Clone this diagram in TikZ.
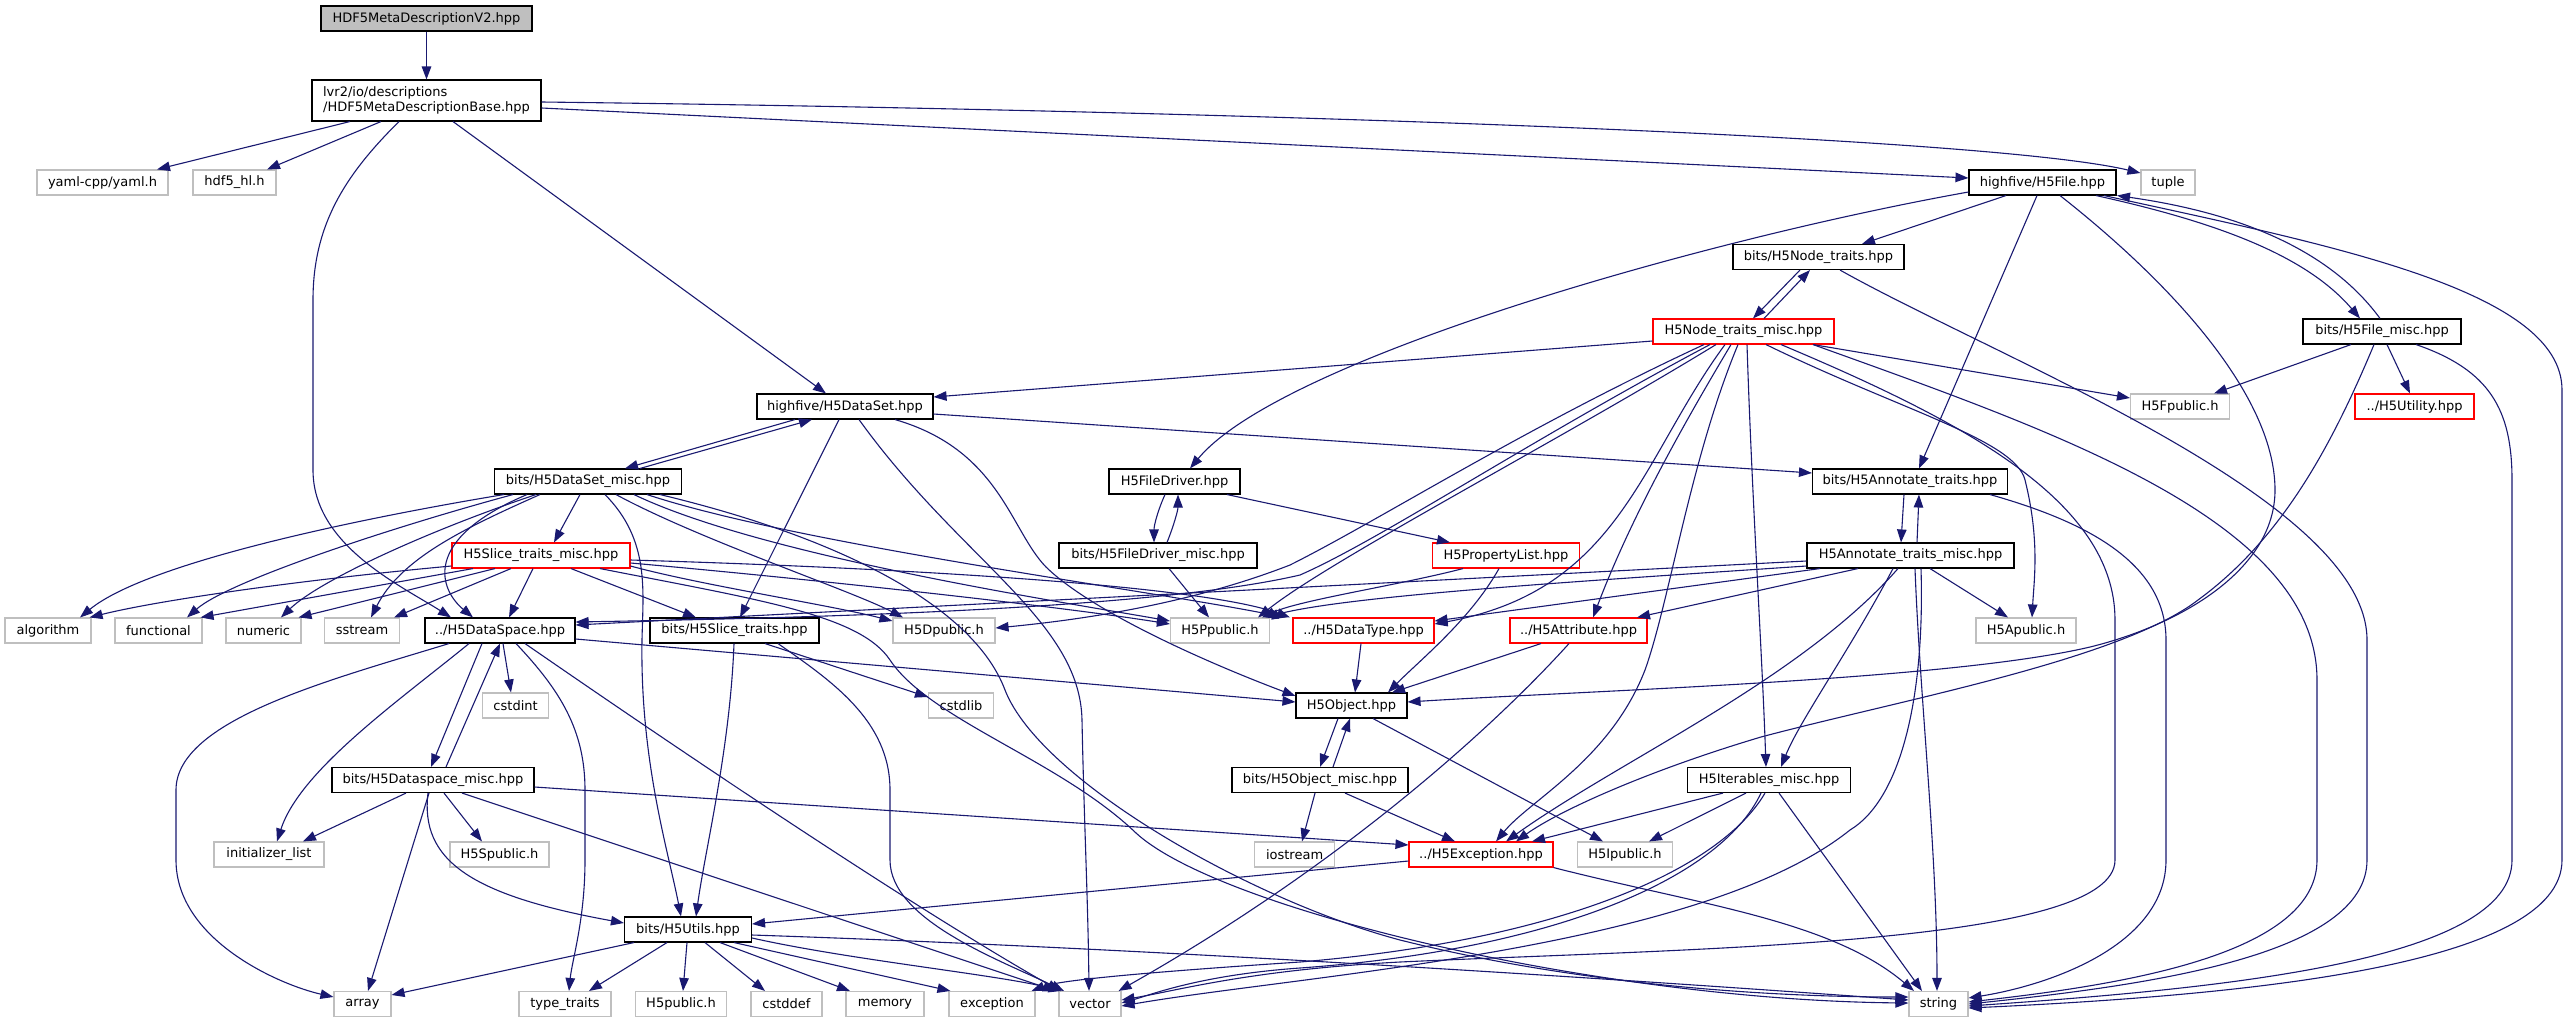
\documentclass[tikz,border=0pt]{standalone}
\usepackage{fontspec}
\setmainfont{DejaVu Sans}
\usetikzlibrary{arrows.meta,calc}
\definecolor{edgec}{HTML}{191970}
\definecolor{grayb}{HTML}{BFBFBF}
\definecolor{redb}{HTML}{FF0000}
\definecolor{rootf}{HTML}{BFBFBF}
\newcommand{\dxfont}{\fontsize{13pt}{15pt}\selectfont}
\begin{document}
\begin{tikzpicture}[x=1pt,y=-1pt,
  nd/.style={rectangle, inner sep=0pt, minimum height=25pt, line width=1.1pt, font=\dxfont, text=black},
  fb/.style={nd, draw=black},
  gb/.style={nd, draw=grayb},
  rb/.style={nd, draw=redb},
  mw/.style={minimum width=#1pt},
  ed/.style={draw=edgec, line width=1.1pt, -{Triangle[length=13pt,width=9.5pt]}}]
\useasboundingbox (0,0) rectangle (2568,1023);
% ---------- nodes ----------
\node[fb, mw=211, fill=rootf] (v2) at (426.5,18.5) {HDF5MetaDescriptionV2.hpp};
\node[fb, mw=229, minimum height=41pt, align=left] (base) at (426.5,100.5) {lvr2/io/descriptions\\/HDF5MetaDescriptionBase.hpp};
\node[gb, mw=131] (yaml) at (102.5,182.5) {yaml-cpp/yaml.h};
\node[gb, mw=83] (hdfhl) at (234.5,182.5) {hdf5\_hl.h};
\node[fb, mw=147] (file) at (2042.5,182.5) {highfive/H5File.hpp};
\node[gb, mw=54] (tuple) at (2168,182.5) {tuple};
\node[fb, mw=171] (ntr) at (1818.5,257) {bits/H5Node\_traits.hpp};
\node[rb, mw=181] (ntm) at (1743.5,331.5) {H5Node\_traits\_misc.hpp};
\node[fb, mw=158] (fmisc) at (2382,331.5) {bits/H5File\_misc.hpp};
\node[gb, mw=99] (fpub) at (2180,406.5) {H5Fpublic.h};
\node[rb, mw=119] (util) at (2414.5,406.5) {../H5Utility.hpp};
\node[fb, mw=176] (dset) at (845,406.5) {highfive/H5DataSet.hpp};
\node[fb, mw=187] (dsm) at (588,481.5) {bits/H5DataSet\_misc.hpp};
\node[fb, mw=131] (fdrv) at (1174.5,481.5) {H5FileDriver.hpp};
\node[fb, mw=195] (atr) at (1910,481.5) {bits/H5Annotate\_traits.hpp};
\node[rb, mw=178] (slm) at (541,555.5) {H5Slice\_traits\_misc.hpp};
\node[fb, mw=198] (fdm) at (1158,555.5) {bits/H5FileDriver\_misc.hpp};
\node[rb, mw=147] (plist) at (1506,555.5) {H5PropertyList.hpp};
\node[fb, mw=207] (atm) at (1910.5,555.5) {H5Annotate\_traits\_misc.hpp};
\node[gb, mw=86] (algo) at (48,630.5) {algorithm};
\node[gb, mw=87] (func) at (158.5,630.5) {functional};
\node[gb, mw=75] (num) at (263.5,630.5) {numeric};
\node[gb, mw=75] (sstr) at (362,630.5) {sstream};
\node[fb, mw=150] (dspace) at (500,630.5) {../H5DataSpace.hpp};
\node[fb, mw=169] (sltr) at (734.5,630.5) {bits/H5Slice\_traits.hpp};
\node[gb, mw=102] (dpub) at (944,630.5) {H5Dpublic.h};
\node[gb, mw=99] (ppub) at (1220,630.5) {H5Ppublic.h};
\node[rb, mw=141] (dtype) at (1363.5,630.5) {../H5DataType.hpp};
\node[rb, mw=137] (attr) at (1578.5,630.5) {../H5Attribute.hpp};
\node[gb, mw=100] (apub) at (2026,630.5) {H5Apublic.h};
\node[gb, mw=66] (cstdint) at (515.6,705.5) {cstdint};
\node[gb, mw=65] (cstdlib) at (961,705.5) {cstdlib};
\node[fb, mw=111] (obj) at (1351.5,705.5) {H5Object.hpp};
\node[fb, mw=202] (dspm) at (433,780) {bits/H5Dataspace\_misc.hpp};
\node[fb, mw=176] (objm) at (1320,780) {bits/H5Object\_misc.hpp};
\node[fb, mw=163] (itm) at (1769,780) {H5Iterables\_misc.hpp};
\node[gb, mw=110] (initl) at (269,854.5) {initializer\_list};
\node[gb, mw=99] (spub) at (499.5,854.5) {H5Spublic.h};
\node[gb, mw=80] (iostr) at (1294.6,854.5) {iostream};
\node[rb, mw=144] (exc) at (1481,854.5) {../H5Exception.hpp};
\node[gb, mw=95] (ipub) at (1625,854.5) {H5Ipublic.h};
\node[fb, mw=127] (utils) at (688,929.5) {bits/H5Utils.hpp};
\node[gb, mw=57] (array) at (362.5,1004) {array};
\node[gb, mw=92] (ttraits) at (565,1004) {type\_traits};
\node[gb, mw=91] (h5pub) at (681,1004) {H5public.h};
\node[gb, mw=71] (cstddef) at (786.5,1004) {cstddef};
\node[gb, mw=78] (memory) at (885,1004) {memory};
\node[gb, mw=86] (exception) at (992,1004) {exception};
\node[gb, mw=62] (vector) at (1090,1004) {vector};
\node[gb, mw=59] (string) at (1938.5,1004) {string};
% ---------- edges ----------
% top
\draw[ed] (v2.south) -- (base.north);
\draw[ed] (base.south -| 350,0) -- (yaml.north -| 157,0);
\draw[ed] (base.south -| 381,0) -- (hdfhl.north -| 267,0);
\draw[ed] (base.south -| 399,0) .. controls (345,175) and (313,225) .. (313,300) -- (313,470) .. controls (313,545) and (400,585) .. (dspace.north -| 451,0);
\draw[ed] (base.south -| 453,0) -- (dset.north -| 826,0);
\draw[ed] (base.east |- 0,108) -- (file.west |- 0,178);
\draw[ed] (base.east |- 0,102) .. controls (1200,110) and (1980,135) .. (tuple.west |- 0,173);
% file
\draw[ed] (file.south -| 2006,0) -- (ntr.north -| 1862,0);
\draw[ed] (file.west |- 0,192) .. controls (1700,240) and (1280,360) .. (fdrv.north -| 1190,0);
\draw[ed] (file.south -| 2037,0) -- (atr.north -| 1919,0);
\draw[ed] (file.south -| 2060,0) .. controls (2180,290) and (2275,400) .. (2275,490) .. controls (2275,570) and (2180,625) .. (2090,647) .. controls (1950,680) and (1600,690) .. (obj.east |- 0,702);
\draw[ed] (file.south -| 2104,0) .. controls (2330,245) and (2562,290) .. (2562,390) -- (2562,860) .. controls (2562,965) and (2250,995) .. (string.east |- 0,1008);
\draw[ed] (file.south -| 2096,0) .. controls (2230,225) and (2310,260) .. (fmisc.north -| 2360,0);
\draw[ed] (fmisc.north -| 2380,0) .. controls (2330,250) and (2240,213) .. (file.south -| 2117,0);
% file misc
\draw[ed] (fmisc.south -| 2351,0) -- (fpub.north -| 2214,0);
\draw[ed] (fmisc.south -| 2387,0) -- (util.north -| 2410,0);
\draw[ed] (fmisc.south -| 2416,0) .. controls (2490,370) and (2512,410) .. (2512,480) -- (2512,860) .. controls (2512,960) and (2230,988) .. (string.east |- 0,1006);
\draw[ed] (fmisc.south -| 2374,0) .. controls (2330,450) and (2280,540) .. (2198,600) .. controls (2120,660) and (1900,700) .. (1761,737) .. controls (1650,770) and (1560,810) .. (exc.north -| 1516,0);
% node traits
\draw[ed] (ntr.south -| 1800,0) -- (ntm.north -| 1753,0);
\draw[ed] (ntm.north -| 1764,0) -- (ntr.south -| 1810,0);
\draw[ed] (ntr.south -| 1840,0) .. controls (2000,360) and (2367,500) .. (2367,640) -- (2367,860) .. controls (2367,955) and (2150,985) .. (string.east |- 0,1004);
% node traits misc
\draw[ed] (ntm.west |- 0,341) -- (dset.east |- 0,397);
\draw[ed] (ntm.south -| 1813,0) -- (fpub.west |- 0,398);
\draw[ed] (ntm.south -| 1766,0) .. controls (1900,410) and (2015,440) .. (2025,480) .. controls (2040,540) and (2034,580) .. (apub.north -| 2032,0);
\draw[ed] (ntm.south -| 1781,0) .. controls (1960,420) and (2115,500) .. (2115,620) -- (2115,860) .. controls (2115,945) and (1700,948) .. (1400,962) .. controls (1250,970) and (1180,990) .. (vector.east |- 0,1000);
\draw[ed] (ntm.south -| 1813,0) .. controls (2050,430) and (2317,520) .. (2317,680) -- (2317,860) .. controls (2317,955) and (2120,985) .. (string.east |- 0,1002);
\draw[ed] (ntm.south -| 1747,0) .. controls (1752,500) and (1762,650) .. (itm.north -| 1766,0);
\draw[ed] (ntm.south -| 1738,0) .. controls (1690,460) and (1670,600) .. (1645,670) .. controls (1610,760) and (1530,800) .. (exc.north -| 1496,0);
\draw[ed] (ntm.south -| 1731,0) .. controls (1680,430) and (1630,520) .. (attr.north -| 1593,0);
\draw[ed] (ntm.south -| 1725,0) .. controls (1640,460) and (1620,590) .. (dtype.east |- 0,624);
\draw[ed] (ntm.south -| 1716,0) .. controls (1560,440) and (1330,560) .. (ppub.north -| 1258,0);
\draw[ed] (ntm.south -| 1704,0) .. controls (1520,430) and (1380,520) .. (1290,565) .. controls (1200,600) and (1100,618) .. (dpub.east |- 0,628);
\draw[ed] (ntm.south -| 1710,0) .. controls (1530,440) and (1380,540) .. (1300,575) .. controls (1150,610) and (800,618) .. (dspace.east |- 0,622);
% dataset
\draw[ed] (dset.south -| 795,0) -- (dsm.north -| 625,0);
\draw[ed] (dsm.north -| 640,0) -- (dset.south -| 812,0);
\draw[ed] (dset.south -| 839,0) -- (sltr.north -| 740,0);
\draw[ed] (dset.south -| 859,0) .. controls (960,560) and (1080,620) .. (1082,720) .. controls (1084,820) and (1088,900) .. (vector.north -| 1089,0);
\draw[ed] (dset.south -| 895,0) .. controls (1000,450) and (1010,530) .. (1046,567) .. controls (1090,610) and (1200,660) .. (obj.west |- 0,696);
\draw[ed] (dset.east |- 0,414) -- (atr.west |- 0,473);
% dataset misc
\draw[ed] (dsm.south -| 504,0) .. controls (380,515) and (150,560) .. (algo.north -| 80,0);
\draw[ed] (dsm.south -| 513,0) .. controls (400,525) and (230,580) .. (func.north -| 187,0);
\draw[ed] (dsm.south -| 536,0) .. controls (430,530) and (320,580) .. (num.north -| 281,0);
\draw[ed] (dsm.south -| 540,0) .. controls (460,530) and (400,560) .. (sstr.north -| 371,0);
\draw[ed] (dsm.south -| 527,0) .. controls (420,540) and (440,590) .. (dspace.north -| 473,0);
\draw[ed] (dsm.south -| 580,0) -- (slm.north -| 554,0);
\draw[ed] (dsm.south -| 605,0) .. controls (650,540) and (643,590) .. (642,640) .. controls (640,760) and (668,850) .. (utils.north -| 681,0);
\draw[ed] (dsm.south -| 616,0) .. controls (700,540) and (850,590) .. (dpub.north -| 903,0);
\draw[ed] (dsm.south -| 634,0) .. controls (760,555) and (1050,600) .. (ppub.west |- 0,621);
\draw[ed] (dsm.south -| 647,0) .. controls (800,545) and (1150,590) .. (dtype.north -| 1285,0);
\draw[ed] (dsm.south -| 660,0) .. controls (850,540) and (975,610) .. (1005,690) .. controls (1040,780) and (1250,900) .. (1400,940) .. controls (1600,990) and (1800,997) .. (string.west |- 0,997);
% slice traits misc
\draw[ed] (slm.west |- 0,566) .. controls (300,580) and (160,600) .. ([xshift=-2pt]algo.north east);
\draw[ed] (slm.south -| 473,0) -- ([xshift=-2pt]func.north east);
\draw[ed] (slm.south -| 495,0) -- ([xshift=-3pt]num.north east);
\draw[ed] (slm.south -| 511,0) -- ([xshift=-6pt]sstr.north east);
\draw[ed] (slm.south -| 533,0) -- (dspace.north -| 509,0);
\draw[ed] (slm.south -| 571,0) -- (sltr.north -| 696,0);
\draw[ed] (slm.east |- 0,566) .. controls (700,585) and (830,605) .. (dpub.west |- 0,621);
\draw[ed] (slm.east |- 0,563) .. controls (800,578) and (1050,605) .. (ppub.west |- 0,624);
\draw[ed] (slm.east |- 0,560) .. controls (900,568) and (1200,585) .. (dtype.north -| 1290,0);
\draw[ed] (slm.south -| 600,0) .. controls (760,600) and (860,615) .. (890,660) .. controls (930,720) and (1060,760) .. (1136,833) .. controls (1220,910) and (1600,1000) .. (string.west |- 0,1003);
% slice traits
\draw[ed] (sltr.south -| 734,0) .. controls (730,750) and (705,850) .. (utils.north -| 696,0);
\draw[ed] (sltr.south -| 765,0) -- (cstdlib.west |- 0,697);
\draw[ed] (sltr.south -| 778,0) .. controls (830,680) and (890,720) .. (890,790) -- (890,860) .. controls (890,920) and (1000,960) .. (vector.north -| 1064,0);
% dataspace
\draw[ed] (dspace.east |- 0,639) -- (obj.west |- 0,702);
\draw[ed] (dspace.south -| 449,0) .. controls (330,680) and (176,720) .. (176,790) -- (176,860) .. controls (176,940) and (280,985) .. (array.west |- 0,997);
\draw[ed] (dspace.south -| 469,0) .. controls (400,700) and (300,770) .. (initl.north -| 277,0);
\draw[ed] (dspace.south -| 482,0) -- (dspm.north -| 431,0);
\draw[ed] (dspm.north -| 446,0) -- (dspace.south -| 500,0);
\draw[ed] (dspace.south -| 503,0) -- (cstdint.north -| 511,0);
\draw[ed] (dspace.south -| 516,0) .. controls (560,690) and (585,730) .. (585,790) -- (585,860) .. controls (585,920) and (572,960) .. (ttraits.north -| 569,0);
\draw[ed] (dspace.south -| 525,0) .. controls (650,730) and (900,900) .. (vector.north -| 1060,0);
% dataspace misc
\draw[ed] (dspm.south -| 406,0) -- (initl.north -| 303,0);
\draw[ed] (dspm.south -| 444,0) -- (spub.north -| 482,0);
\draw[ed] (dspm.south -| 429,0) -- (array.north -| 368,0);
\draw[ed] (dspm.south -| 428,0) .. controls (420,860) and (470,895) .. (utils.west |- 0,923);
\draw[ed] (dspm.south -| 462,0) -- (vector.north -| 1056,0);
\draw[ed] (dspm.east |- 0,787) -- (exc.west |- 0,845);
% object
\draw[ed] (obj.south -| 1338,0) -- (objm.north -| 1320,0);
\draw[ed] (objm.north -| 1333,0) -- (obj.south -| 1350,0);
\draw[ed] (obj.south -| 1373,0) -- (ipub.north -| 1603,0);
\draw[ed] (objm.south -| 1315,0) -- (iostr.north -| 1302,0);
\draw[ed] (objm.south -| 1345,0) -- (exc.north -| 1455,0);
% datatype, attribute, property list
\draw[ed] (dtype.south -| 1361,0) -- (obj.north -| 1355,0);
\draw[ed] (attr.south -| 1541,0) -- (obj.north -| 1392,0);
\draw[ed] (attr.south -| 1569,0) .. controls (1500,720) and (1350,860) .. ([xshift=-3pt]vector.north east);
\draw[ed] (plist.south -| 1499,0) .. controls (1470,620) and (1420,660) .. (obj.north -| 1388,0);
\draw[ed] (plist.south -| 1463,0) .. controls (1400,585) and (1300,600) .. (ppub.north -| 1262,0);
% file driver
\draw[ed] (fdrv.south -| 1165,0) .. controls (1158,510) and (1154,525) .. (fdm.north -| 1154,0);
\draw[ed] (fdm.north -| 1167,0) .. controls (1174,525) and (1178,510) .. (fdrv.south -| 1178,0);
\draw[ed] (fdrv.south -| 1227,0) -- (plist.north -| 1450,0);
\draw[ed] (fdm.south -| 1169,0) -- (ppub.north -| 1209,0);
% annotate traits
\draw[ed] (atr.south -| 1904,0) -- (atm.north -| 1901,0);
\draw[ed] (atm.north -| 1917,0) -- (atr.south -| 1919,0);
\draw[ed] (atr.south -| 1990,0) .. controls (2080,520) and (2166,560) .. (2166,640) -- (2166,860) .. controls (2166,945) and (2050,985) .. (string.east |- 0,998);
\draw[ed] (atm.west |- 0,561) -- (dspace.east |- 0,625);
\draw[ed] (atm.west |- 0,566) .. controls (1600,580) and (1350,595) .. (ppub.north -| 1265,0);
\draw[ed] (atm.south -| 1820,0) -- (dtype.east |- 0,621);
\draw[ed] (atm.south -| 1858,0) -- (attr.north -| 1637,0);
\draw[ed] (atm.south -| 1930,0) -- (apub.north -| 2008,0);
\draw[ed] (atm.south -| 1893,0) .. controls (1850,650) and (1800,720) .. (itm.north -| 1781,0);
\draw[ed] (atm.south -| 1898,0) .. controls (1800,680) and (1620,760) .. (exc.north -| 1506,0);
\draw[ed] (atm.south -| 1915,0) .. controls (1920,700) and (1937,850) .. (string.north -| 1937,0);
\draw[ed] (atm.south -| 1921,0) .. controls (1925,700) and (1900,800) .. (1850,830) .. controls (1700,950) and (1300,975) .. (vector.east |- 0,1006);
% iterables
\draw[ed] (itm.south -| 1723,0) -- (exc.north -| 1532,0);
\draw[ed] (itm.south -| 1746,0) -- (ipub.north -| 1649,0);
\draw[ed] (itm.south -| 1779,0) -- (string.north -| 1922,0);
\draw[ed] (itm.south -| 1761,0) .. controls (1720,880) and (1550,950) .. (1300,968) .. controls (1200,975) and (1150,995) .. (vector.east |- 0,1003);
\draw[ed] (itm.south -| 1765,0) .. controls (1720,870) and (1560,940) .. (1300,962) .. controls (1150,972) and (1060,980) .. ([xshift=-4pt]exception.north east);
% exception
\draw[ed] (exc.west |- 0,861) -- (utils.east |- 0,924);
\draw[ed] (exc.south east) .. controls (1700,905) and (1830,920) .. (string.north -| 1914,0);
% utils
\draw[ed] (utils.south -| 634,0) -- (array.east |- 0,995);
\draw[ed] (utils.south -| 667,0) -- (ttraits.north -| 589,0);
\draw[ed] (utils.south -| 687,0) -- (h5pub.north -| 683,0);
\draw[ed] (utils.south -| 705,0) -- (cstddef.north -| 765,0);
\draw[ed] (utils.south -| 720,0) -- (memory.north -| 850,0);
\draw[ed] (utils.south -| 734,0) -- ([xshift=2pt]exception.north west);
\draw[ed] (utils.east |- 0,938) .. controls (850,960) and (1000,975) .. ([xshift=3pt]vector.north west);
\draw[ed] (utils.east |- 0,935) .. controls (1200,950) and (1700,985) .. (string.west |- 0,1000);
\end{tikzpicture}
\end{document}
